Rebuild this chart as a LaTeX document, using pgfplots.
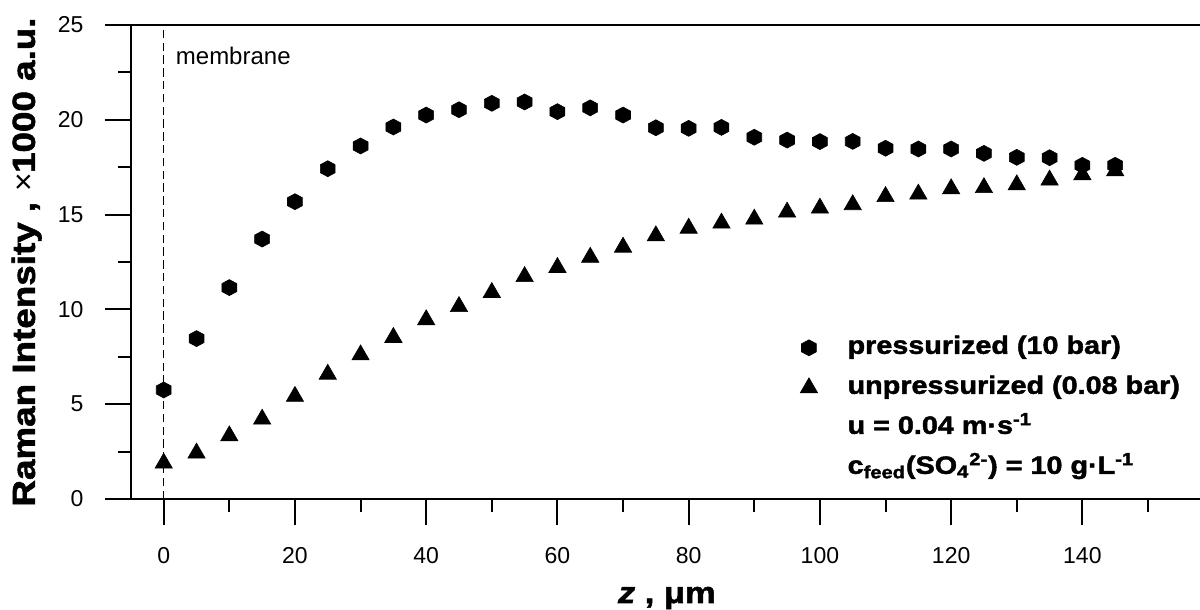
\documentclass[border=0pt]{standalone}
\usepackage{fontspec}
\setmainfont{Liberation Sans}
\newfontfamily\blk[FakeStretch=1.15,FakeBold=1.8]{Liberation Sans Bold}
\newfontfamily\blkit[FakeStretch=1.15,FakeBold=1.8]{Liberation Sans Bold Italic}
\usepackage{pgfplots}
\pgfplotsset{compat=1.18}

\pgfdeclareplotmark{hexagon*}{%
  \pgfpathmoveto{\pgfqpoint{0pt}{\pgfplotmarksize}}%
  \pgfpathlineto{\pgfqpoint{0.93\pgfplotmarksize}{0.5\pgfplotmarksize}}%
  \pgfpathlineto{\pgfqpoint{0.93\pgfplotmarksize}{-0.5\pgfplotmarksize}}%
  \pgfpathlineto{\pgfqpoint{0pt}{-\pgfplotmarksize}}%
  \pgfpathlineto{\pgfqpoint{-0.93\pgfplotmarksize}{-0.5\pgfplotmarksize}}%
  \pgfpathlineto{\pgfqpoint{-0.93\pgfplotmarksize}{0.5\pgfplotmarksize}}%
  \pgfpathclose
  \pgfusepathqfillstroke}

\pgfplotstableread{
z I
0 5.75
5 8.46
10 11.15
15 13.71
20 15.68
25 17.42
30 18.62
35 19.62
40 20.25
45 20.53
50 20.87
55 20.94
60 20.43
65 20.63
70 20.25
75 19.58
80 19.55
85 19.60
90 19.08
95 18.93
100 18.85
105 18.86
110 18.50
115 18.46
120 18.46
125 18.23
130 18.02
135 18.00
140 17.60
145 17.60
}\pressurized

\pgfplotstableread{
z I
0 1.89
5 2.42
10 3.33
15 4.21
20 5.41
25 6.58
30 7.60
35 8.52
40 9.45
45 10.15
50 10.89
55 11.73
60 12.21
65 12.75
70 13.28
75 13.88
80 14.28
85 14.55
90 14.76
95 15.13
100 15.34
105 15.52
110 15.95
115 16.08
120 16.36
125 16.42
130 16.57
135 16.82
140 17.10
145 17.31
}\unpressurized

\begin{document}
\begin{tikzpicture}
\useasboundingbox (-65.45pt,-55.5pt) rectangle (534.55pt,249.5pt);
\begin{axis}[
  scale only axis,
  width=534.8pt, height=237pt,
  xmin=-5, xmax=158, ymin=0, ymax=25,
  axis x line=box, axis y line=left,
  axis line style={-, line width=1pt, black},
  tick pos=left,
  tick align=outside,
  major tick length=13pt, minor tick length=6.5pt,
  every tick/.style={black, line width=1pt},
  xtick={0,20,...,140}, minor xtick={10,30,...,150},
  ytick={0,5,...,25}, minor ytick={2.5,7.5,...,22.5},
  tick label style={font=\fontsize{11.5}{13}\selectfont},
  /pgf/number format/assume math mode=true,
  xticklabel style={anchor=base, inner sep=0pt, yshift=-19.5pt},
  yticklabel style={anchor=east, inner sep=0pt, xshift=-10.5pt},
  xlabel={{\blkit z}{\blk\ , μm}},
  xlabel style={font=\fontsize{15}{18}\selectfont, at={(axis description cs:0.455,0)}, anchor=base west, inner sep=0pt, yshift=-52pt},
  ylabel={{\blk Raman Intensity , }{×}{\blk 1000 a.u.}},
  ylabel style={font=\fontsize{16}{19}\selectfont, at={([xshift=-48pt]axis description cs:0,0.5)}, anchor=base, inner sep=0pt},
  legend cell align=left,
  legend style={at={(axis description cs:0.612,0.362)}, anchor=north west, draw=none, fill=none,
    font=\blk\fontsize{12.5}{15}\selectfont, row sep=4pt,
    nodes={text height=9pt, text depth=3pt},
    /tikz/every odd column/.append style={column sep=13pt}},
]
\addplot[forget plot, black, line width=0.75pt, dash pattern=on 4.2pt off 2.2pt] coordinates {(0,0) (0,25)};
\addplot[only marks, black, mark=hexagon*, mark size=4pt, mark options={line width=0.3pt}] table[x=z,y=I] {\pressurized};
\addlegendentry{pressurized (10 bar)}
\addplot[only marks, black, mark=triangle*, mark size=5pt, mark options={line width=0.3pt}] table[x=z,y=I] {\unpressurized};
\addlegendentry{unpressurized (0.08 bar)}
\addlegendimage{empty legend}
\addlegendentry{u = 0.04 m·s\textsuperscript{-1}}
\addlegendimage{empty legend}
\addlegendentry{c\textsubscript{feed}(SO\textsubscript{4}\textsuperscript{2-}) = 10 g·L\textsuperscript{-1}}
\node[anchor=base west, inner sep=0pt, font=\fontsize{12}{14}\selectfont] at (axis cs:1.8,22.94) {membrane};
\end{axis}
\end{tikzpicture}
\end{document}
